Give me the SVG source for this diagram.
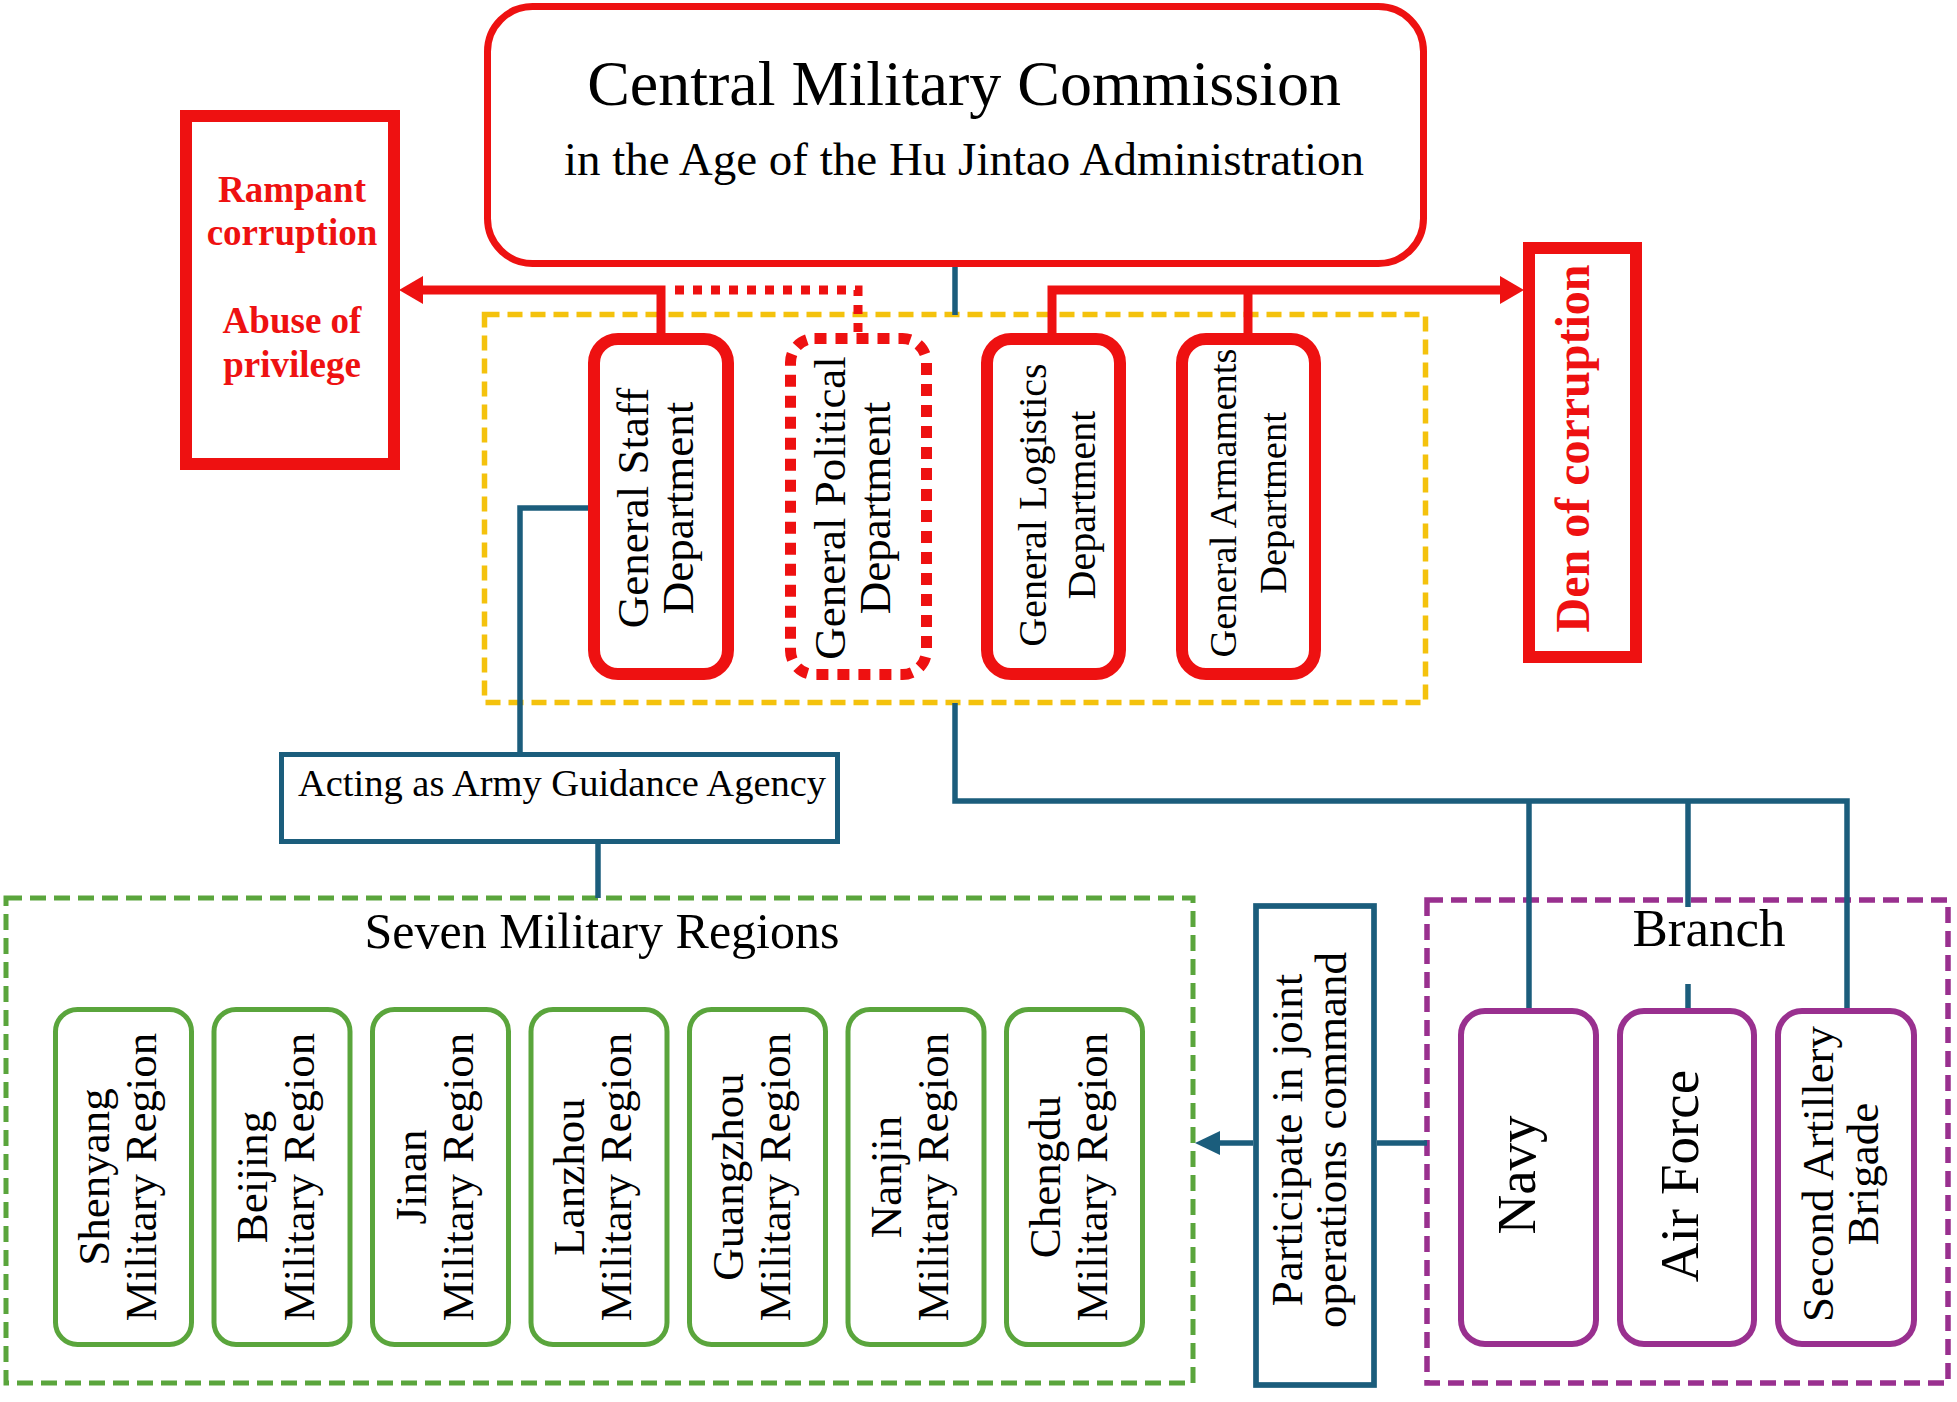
<svg xmlns="http://www.w3.org/2000/svg" width="1957" height="1402" viewBox="0 0 1957 1402">
<defs>
<style>
text{font-family:"Liberation Serif","Times New Roman",serif;fill:#000}
.red{fill:none;stroke:#ee1111}
.redt{fill:#ee1111;font-weight:bold}
.dept{fill:#fff;stroke:#ee1111;stroke-width:12}
.reg{fill:#fff;stroke:#5aa53c;stroke-width:5}
.br{fill:#fff;stroke:#99308f;stroke-width:6}
.blue{fill:none;stroke:#1b5d7c;stroke-width:5.5;stroke-linejoin:miter}
.mid{text-anchor:middle}
</style>
<marker id="arrR" markerUnits="userSpaceOnUse" markerWidth="26" markerHeight="28" refX="0" refY="14" orient="auto"><path d="M0,0 L24,14 L0,28 z" fill="#ee1111"/></marker>
<marker id="arrB" markerUnits="userSpaceOnUse" markerWidth="26" markerHeight="26" refX="0" refY="12" orient="auto"><path d="M0,0 L25,12 L0,24 z" fill="#1b5d7c"/></marker>
</defs>
<rect width="1957" height="1402" fill="#fff"/>

<g id="containers">
<rect id="yellow-group" x="484.5" y="314.5" width="941" height="388" fill="none" stroke="#f4c20d" stroke-width="5.5" stroke-dasharray="15 8"/>
<rect id="regions-group" x="6" y="898" width="1187" height="485" fill="none" stroke="#5aa53c" stroke-width="5" stroke-dasharray="16 8"/>
<rect id="branch-group" x="1427" y="900" width="521" height="483" fill="none" stroke="#99308f" stroke-width="5.5" stroke-dasharray="16 8"/>
</g>

<g id="connectors">
<path class="red" stroke-width="9" d="M661,333 V290 H423" marker-end="url(#arrR)"/>
<path class="red" stroke-width="9" d="M1052,333 V290 H1500" marker-end="url(#arrR)"/>
<path class="red" stroke-width="9" d="M1248,290 V333"/>
<path class="red" stroke-width="9" stroke-dasharray="9 9" d="M675,290 H858 V334"/>
<path class="blue" d="M955,266 V315"/>
<path class="blue" d="M955,703 V801 H1847 V1008"/>
<path class="blue" d="M1529,801 V1008"/>
<path class="blue" d="M1688,801 V907"/>
<path class="blue" d="M1688,984 V1008"/>
<path class="blue" d="M589,508 H520 V753"/>
<path class="blue" d="M598,842 V898"/>
<path class="blue" d="M1377,1143 H1427"/>
<path class="blue" d="M1253,1143 H1220" marker-end="url(#arrB)"/>
</g>

<g id="cmc">
<rect x="487.5" y="6.5" width="936" height="257" rx="45" fill="#fff" stroke="#ee1111" stroke-width="7"/>
<text class="mid" x="964" y="105" font-size="64">Central Military Commission</text>
<text class="mid" x="964" y="175" font-size="47">in the Age of the Hu Jintao Administration</text>
</g>

<g id="rampant">
<rect x="186" y="116" width="208" height="348" fill="#fff" stroke="#ee1111" stroke-width="12"/>
<text class="mid redt" font-size="37"><tspan x="292" y="202">Rampant</tspan><tspan x="292" y="245">corruption</tspan><tspan x="292" y="333">Abuse of</tspan><tspan x="292" y="377">privilege</tspan></text>
</g>

<g id="den">
<rect x="1529" y="248" width="107" height="409" fill="#fff" stroke="#ee1111" stroke-width="12"/>
<text class="mid redt" font-size="48" transform="translate(1582.5,448.5) rotate(-90)" x="0" y="6">Den of corruption</text>
</g>

<g id="gsd">
<rect class="dept" x="594" y="339" width="134" height="335" rx="24"/>
<text class="mid" font-size="45" transform="translate(661,508) rotate(-90)"><tspan x="0" y="-13">General Staff</tspan><tspan x="0" y="32">Department</tspan></text>
</g>
<g id="gpd">
<rect x="790.5" y="338.5" width="136" height="336" rx="24" fill="#fff" stroke="#ee1111" stroke-width="11" stroke-dasharray="12 9"/>
<text class="mid" font-size="45" transform="translate(858.5,508) rotate(-90)"><tspan x="0" y="-13.5">General Political</tspan><tspan x="0" y="31.5">Department</tspan></text>
</g>
<g id="gld">
<rect class="dept" x="987" y="339" width="133" height="335" rx="24"/>
<text class="mid" font-size="40" transform="translate(1053.5,505) rotate(-90)"><tspan x="0" y="-7.5">General Logistics</tspan><tspan x="0" y="41.5">Department</tspan></text>
</g>
<g id="gad">
<rect class="dept" x="1182" y="339" width="133" height="335" rx="24"/>
<text class="mid" font-size="38.5" transform="translate(1248.5,503) rotate(-90)"><tspan x="0" y="-13">General Armaments</tspan><tspan x="0" y="37">Department</tspan></text>
</g>

<g id="acting">
<rect x="281.5" y="754.5" width="556" height="87" fill="#fff" stroke="#1b5d7c" stroke-width="5"/>
<text class="mid" x="562" y="796" font-size="38.5">Acting as Army Guidance Agency</text>
</g>

<g id="seven-title"><text class="mid" x="602" y="948" font-size="50">Seven Military Regions</text></g>

<g id="shenyang"><rect class="reg" x="55.5" y="1009.5" width="136" height="335" rx="22"/>
<text class="mid" font-size="45" transform="translate(123.5,1177) rotate(-90)"><tspan x="0" y="-15">Shenyang</tspan><tspan x="0" y="32">Military Region</tspan></text></g>
<g id="beijing"><rect class="reg" x="214" y="1009.5" width="136" height="335" rx="22"/>
<text class="mid" font-size="45" transform="translate(282,1177) rotate(-90)"><tspan x="0" y="-15">Beijing</tspan><tspan x="0" y="32">Military Region</tspan></text></g>
<g id="jinan"><rect class="reg" x="372.5" y="1009.5" width="136" height="335" rx="22"/>
<text class="mid" font-size="45" transform="translate(440.5,1177) rotate(-90)"><tspan x="0" y="-15">Jinan</tspan><tspan x="0" y="32">Military Region</tspan></text></g>
<g id="lanzhou"><rect class="reg" x="531" y="1009.5" width="136" height="335" rx="22"/>
<text class="mid" font-size="45" transform="translate(599,1177) rotate(-90)"><tspan x="0" y="-15">Lanzhou</tspan><tspan x="0" y="32">Military Region</tspan></text></g>
<g id="guangzhou"><rect class="reg" x="689.5" y="1009.5" width="136" height="335" rx="22"/>
<text class="mid" font-size="45" transform="translate(757.5,1177) rotate(-90)"><tspan x="0" y="-15">Guangzhou</tspan><tspan x="0" y="32">Military Region</tspan></text></g>
<g id="nanjin"><rect class="reg" x="848" y="1009.5" width="136" height="335" rx="22"/>
<text class="mid" font-size="45" transform="translate(916,1177) rotate(-90)"><tspan x="0" y="-15">Nanjin</tspan><tspan x="0" y="32">Military Region</tspan></text></g>
<g id="chengdu"><rect class="reg" x="1006.5" y="1009.5" width="136" height="335" rx="22"/>
<text class="mid" font-size="45" transform="translate(1074.5,1177) rotate(-90)"><tspan x="0" y="-15">Chengdu</tspan><tspan x="0" y="32">Military Region</tspan></text></g>

<g id="participate">
<rect x="1256" y="906" width="118" height="479" fill="#fff" stroke="#1b5d7c" stroke-width="5.7"/>
<text class="mid" font-size="45" transform="translate(1315,1140) rotate(-90)"><tspan x="0" y="-13">Participate in joint</tspan><tspan x="0" y="31">operations command</tspan></text>
</g>

<g id="branch-title"><text class="mid" x="1709" y="946" font-size="53">Branch</text></g>

<g id="navy"><rect class="br" x="1461" y="1011" width="135" height="333" rx="24"/>
<text class="mid" font-size="55" transform="translate(1528.5,1175) rotate(-90)" x="0" y="6.5">Navy</text></g>
<g id="airforce"><rect class="br" x="1620" y="1011" width="134" height="333" rx="24"/>
<text class="mid" font-size="55" transform="translate(1687,1176) rotate(-90)" x="0" y="11">Air Force</text></g>
<g id="artillery"><rect class="br" x="1778" y="1011" width="136" height="333" rx="24"/>
<text class="mid" font-size="45" transform="translate(1846,1174) rotate(-90)"><tspan x="0" y="-13">Second Artillery</tspan><tspan x="0" y="32">Brigade</tspan></text></g>
</svg>
